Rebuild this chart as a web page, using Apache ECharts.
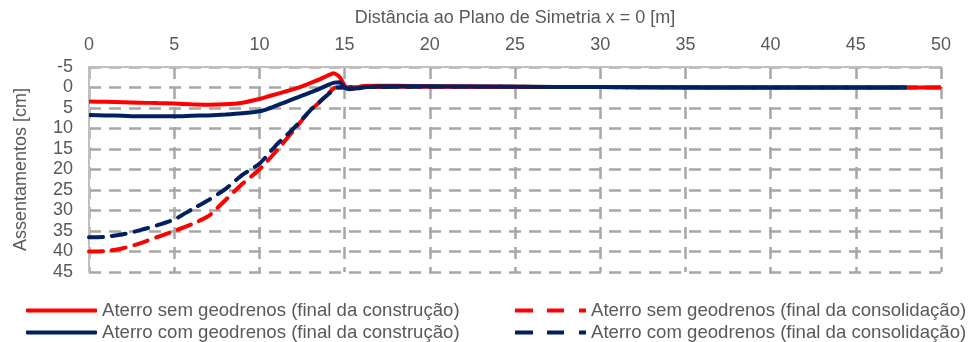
<!DOCTYPE html>
<html>
<head>
<meta charset="utf-8">
<script src="https://cdn.jsdelivr.net/npm/echarts@6/dist/echarts.min.js"></script>
<style>
  html, body { margin: 0; padding: 0; background: #ffffff; }
  #chart { width: 969px; height: 342px; }
</style>
</head>
<body>
<div id="chart"></div>
<script>
// Settlement profiles along the distance from the symmetry plane (x in m, settlement in cm)
const semConstrX = [0, 1, 2, 3, 4, 5, 6, 7, 8, 9, 10, 10.5, 11, 11.5, 12, 12.5, 13, 13.5, 14, 14.35, 14.7, 14.9, 15.1, 15.5, 16, 17, 18, 20, 25, 30, 35, 40, 45, 48, 50];
const semConstrY = [3.4, 3.5, 3.6, 3.7, 3.8, 3.9, 4.1, 4.2, 4.1, 3.7, 2.8, 2.2, 1.6, 1.0, 0.4, -0.3, -1.1, -1.9, -2.9, -3.5, -2.6, -1.2, 0.1, 0.3, -0.3, -0.4, -0.4, -0.3, -0.2, -0.1, 0, 0, 0, 0, 0];

const comConstrX = [0, 1, 2, 3, 4, 5, 6, 7, 8, 9, 10, 10.5, 11, 11.5, 12, 12.5, 13, 13.5, 14, 14.4, 14.7, 15, 15.3, 15.8, 16.5, 18, 20, 25, 30, 35, 40, 45, 48];
const comConstrY = [6.7, 6.8, 6.9, 7.0, 7.0, 7.0, 6.9, 6.8, 6.6, 6.3, 5.8, 5.2, 4.4, 3.6, 2.8, 2.0, 1.2, 0.4, -0.6, -1.2, -1.3, 0, 0.4, 0.2, -0.2, -0.3, -0.3, -0.2, -0.1, 0, 0, 0, 0];

const semConsolX = [0, 1, 2, 3, 4, 5, 6, 7, 8, 9, 10, 11, 12, 13, 13.5, 14, 14.5, 15, 16, 20, 30, 40, 48, 50];
const semConsolY = [40, 39.9, 39.2, 38, 36.5, 35, 33.4, 31.4, 27.5, 23.5, 20, 15.5, 10.5, 5.5, 3.7, 1.6, 0, 0, -0.1, -0.2, -0.1, 0, 0, 0];

const comConsolX = [0, 1, 2, 3, 4, 5, 6, 7, 8, 9, 10, 11, 12, 13, 13.5, 14, 14.6, 15, 16, 20, 30, 40, 48];
const comConsolY = [36.5, 36.4, 35.8, 34.8, 33.6, 32.2, 29.8, 27.5, 24.8, 21.3, 18.6, 14.0, 10, 5.5, 3.6, 1.8, 0, 0, -0.1, -0.2, -0.1, 0, 0];

const seriesNames = [
  'Aterro sem geodrenos (final da construção)',
  'Aterro com geodrenos (final da construção)',
  'Aterro sem geodrenos (final da consolidação)',
  'Aterro com geodrenos (final da consolidação)'
];

const xAxisName = 'Distância ao Plano de Simetria x = 0 [m]';
const yAxisName = 'Assentamentos [cm]';

const RED = '#ff0000';
const NAVY = '#002060';
const TEXT = '#595959';
const FONT = '"Liberation Sans", Arial, sans-serif';
const FS = 18;

function pairs(xs, ys) {
  return xs.map((x, i) => [x, ys[i]]);
}

const dash = [14, 9];
const dashedIcon = 'path://M0,0h18v4h-18z M32,0h17v4h-17z M64,0h7v4h-7z';

function legendEntry(name, left, top, icon) {
  return {
    left: left, top: top,
    itemWidth: 71, itemHeight: 4,
    icon: icon,
    textStyle: { fontSize: 18.6, color: TEXT, fontFamily: FONT },
    data: [name]
  };
}

const chart = echarts.init(document.getElementById('chart'), null, { renderer: 'canvas' });

chart.setOption({
  animation: false,
  backgroundColor: '#ffffff',
  textStyle: { fontFamily: FONT, color: TEXT },
  grid: { left: 89, right: 28, top: 67, bottom: 70, containLabel: false },
  xAxis: {
    type: 'value',
    position: 'top',
    min: 0, max: 50, interval: 5,
    name: xAxisName,
    nameLocation: 'middle',
    nameGap: 40,
    nameTextStyle: { fontSize: FS, color: TEXT, fontFamily: FONT },
    axisLine: { show: true, onZero: false, lineStyle: { color: '#bfbfbf', width: 2 } },
    axisTick: { show: false },
    axisLabel: { fontSize: FS, color: TEXT, margin: 13, fontFamily: FONT },
    splitLine: { show: true, lineStyle: { color: '#a6a6a6', width: 2.5, type: [12, 8] } }
  },
  yAxis: {
    type: 'value',
    inverse: true,
    min: -5, max: 45, interval: 5,
    name: yAxisName,
    nameLocation: 'middle',
    nameGap: 59,
    nameRotate: 90,
    nameTextStyle: { fontSize: FS, color: TEXT, fontFamily: FONT },
    axisLine: { show: true, onZero: false, lineStyle: { color: '#bfbfbf', width: 2 } },
    axisTick: { show: false },
    axisLabel: { fontSize: FS, color: TEXT, margin: 16, fontFamily: FONT },
    splitLine: { show: true, lineStyle: { color: '#a6a6a6', width: 2.5, type: [12, 8] } }
  },
  legend: [
    legendEntry(seriesNames[0], 21, 296, 'roundRect'),
    legendEntry(seriesNames[1], 21, 318, 'roundRect'),
    legendEntry(seriesNames[2], 510, 296, dashedIcon),
    legendEntry(seriesNames[3], 510, 318, dashedIcon)
  ],
  series: [
    {
      name: seriesNames[2], type: 'line', symbol: 'none', smooth: 0.2, z: 2,
      data: pairs(semConsolX, semConsolY),
      lineStyle: { color: RED, width: 4, type: dash, cap: 'round' },
      itemStyle: { color: RED }
    },
    {
      name: seriesNames[3], type: 'line', symbol: 'none', smooth: 0.2, z: 3,
      data: pairs(comConsolX, comConsolY),
      lineStyle: { color: NAVY, width: 4, type: dash, cap: 'round' },
      itemStyle: { color: NAVY }
    },
    {
      name: seriesNames[0], type: 'line', symbol: 'none', smooth: 0.2, z: 4,
      data: pairs(semConstrX, semConstrY),
      lineStyle: { color: RED, width: 4 },
      itemStyle: { color: RED }
    },
    {
      name: seriesNames[1], type: 'line', symbol: 'none', smooth: 0.2, z: 5,
      data: pairs(comConstrX, comConstrY),
      lineStyle: { color: NAVY, width: 4 },
      itemStyle: { color: NAVY }
    }
  ]
});
</script>
</body>
</html>
